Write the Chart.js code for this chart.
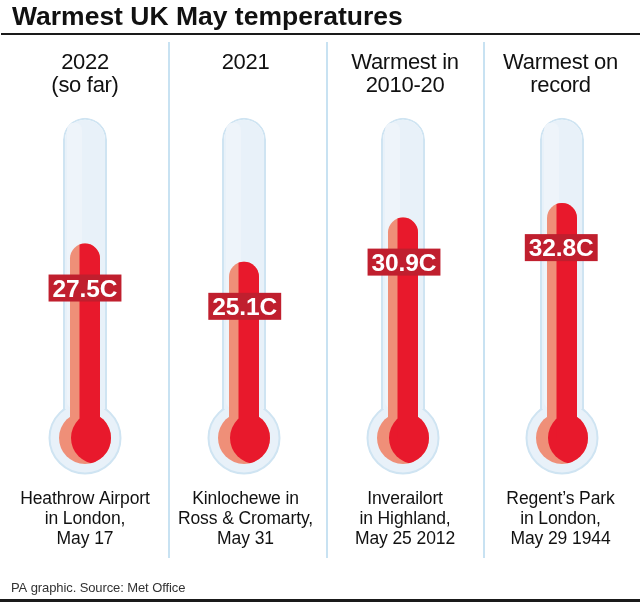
<!DOCTYPE html>
<html>
<head>
<meta charset="utf-8">
<style>
body { margin: 0; background: #fff; }
canvas { display: block; }
</style>
<script src="https://cdn.jsdelivr.net/npm/chart.js@4/dist/chart.umd.min.js"></script>
</head>
<body>
<canvas id="warmestChart" width="640" height="602"></canvas>
<script>
var chartTitle = "Warmest UK May temperatures";
var footNote = "PA graphic. Source: Met Office";
var periods = [["2022", "(so far)"], ["2021"], ["Warmest in", "2010-20"], ["Warmest on", "record"]];
var places = [
    ["Heathrow Airport", "in London,", "May 17"],
    ["Kinlochewe in", "Ross & Cromarty,", "May 31"],
    ["Inverailort", "in Highland,", "May 25 2012"],
    ["Regent\u2019s Park", "in London,", "May 29 1944"]
];
var temps = [27.5, 25.1, 30.9, 32.8];
var tubeRange = [[5.8, 44], [5.8, 44], [5.8, 44], [5.8, 44]];
var bulbLevel = 2;

var FONT = "'Liberation Sans'";
var RED = "#e8192c";
var SALMON = "#ef8f78";
var GLASS = "#e8f1f9";
var GLASS_EDGE = "#cfe4f2";
var SPLIT = 5.5; // red starts this far left of the tube centre
var TEXT_NUDGE = [0, 1.5, 2, -1.5];

function circle(ctx, x, y, r) {
    ctx.beginPath();
    ctx.arc(x, y, r, 0, Math.PI * 2);
}

function centres(chart) {
    return periods.map((p, i) => chart.scales.x.getPixelForValue(i));
}

function draw_lines(ctx, lines, x, y, step) {
    lines.forEach((line, i) => ctx.fillText(line, x, y + i * step));
}

var thermometerParts = {
    id: "thermometerParts",
    beforeDatasetDraw(chart, args) {
        var ctx = chart.ctx;
        var y = chart.scales.y.getPixelForValue(bulbLevel);
        var name = chart.data.datasets[args.index].label;
        if (name == "glass") {
            centres(chart).forEach((x) => {
                circle(ctx, x, y, 35.5);
                ctx.fillStyle = GLASS;
                ctx.fill();
                ctx.lineWidth = 2;
                ctx.strokeStyle = GLASS_EDGE;
                ctx.stroke();
            });
        } else if (name == "salmon") {
            centres(chart).forEach((x) => {
                circle(ctx, x, y, 26);
                ctx.fillStyle = SALMON;
                ctx.fill();
            });
        } else if (name == "red") {
            centres(chart).forEach((x) => {
                ctx.save();
                circle(ctx, x, y, 26);
                ctx.clip();
                circle(ctx, x + 12, y, 26);
                ctx.fillStyle = RED;
                ctx.fill();
                ctx.restore();
            });
            // only the right part of the column is bright red
            ctx.save();
            ctx.beginPath();
            centres(chart).forEach((x) => ctx.rect(x - SPLIT, 0, 40, chart.height));
            ctx.clip();
        }
    },
    afterDatasetDraw(chart, args) {
        var ctx = chart.ctx;
        var name = chart.data.datasets[args.index].label;
        if (name == "red") {
            ctx.restore();
        } else if (name == "glass") {
            var top = chart.scales.y.getPixelForValue(tubeRange[0][1]);
            var bottom = chart.scales.y.getPixelForValue(tubeRange[0][0]);
            centres(chart).forEach((x) => {
                ctx.fillStyle = "#eef4fa";
                ctx.beginPath();
                ctx.roundRect(x - 18, top + 5, 15, bottom - top - 5, 7);
                ctx.fill();
            });
        }
    },
    afterDatasetsDraw(chart) {
        var ctx = chart.ctx;
        ctx.save();

        // rules
        ctx.fillStyle = "#1a1a1a";
        ctx.fillRect(1, 33, 639, 2);
        ctx.fillRect(0, 599, 640, 3);
        ctx.fillStyle = "#c8e2f2";
        [169, 327, 484].forEach((x) => ctx.fillRect(x - 1, 42, 2, 516));

        // title and source
        ctx.textBaseline = "alphabetic";
        ctx.textAlign = "left";
        ctx.fillStyle = "#111";
        ctx.font = "bold 26.5px " + FONT;
        ctx.fillText(chartTitle, 12, 25);
        ctx.fillStyle = "#333";
        ctx.font = "13px " + FONT;
        ctx.letterSpacing = "-0.1px";
        ctx.fillText(footNote, 11, 592);

        // headings, places, value boxes
        ctx.textAlign = "center";
        var ys = chart.scales.y;
        centres(chart).forEach((x, i) => {
            ctx.fillStyle = "#111";
            ctx.font = "22px " + FONT;
            ctx.letterSpacing = "-0.3px";
            draw_lines(ctx, periods[i], x + TEXT_NUDGE[i], 69, 23);
            ctx.font = "17.5px " + FONT;
            ctx.letterSpacing = "-0.1px";
            draw_lines(ctx, places[i], x + TEXT_NUDGE[i], 503.5, 20.3);

            var top = ys.getPixelForValue(temps[i]);
            var label = temps[i].toFixed(1) + "C";
            ctx.font = "bold 24.5px " + FONT;
            ctx.letterSpacing = "-0.1px";
            var boxWidth = ctx.measureText(label).width + 8;
            ctx.fillStyle = "#c01f2e";
            ctx.fillRect(x + TEXT_NUDGE[i] / 2 - boxWidth / 2, top + 31, boxWidth, 27);
            ctx.fillStyle = "#fff";
            ctx.fillText(label, x + TEXT_NUDGE[i] / 2, top + 53);
        });
        ctx.restore();
    }
};

var config = {
    type: "bar",
    data: {
        labels: periods.map((p) => p.join(" ")),
        datasets: [
            { label: "red", data: temps, base: bulbLevel, backgroundColor: RED, barThickness: 30, borderRadius: { topLeft: 15, topRight: 15 }, borderSkipped: false, inflateAmount: 0, order: 1, clip: false },
            { label: "salmon", data: temps, base: bulbLevel, backgroundColor: SALMON, barThickness: 30, borderRadius: { topLeft: 15, topRight: 15 }, borderSkipped: false, inflateAmount: 0, order: 2, clip: false },
            { label: "glass", data: tubeRange, backgroundColor: GLASS, borderColor: GLASS_EDGE, borderWidth: 2, borderSkipped: "bottom", barThickness: 44, borderRadius: { topLeft: 22, topRight: 22 }, inflateAmount: 0, order: 3, clip: false }
        ]
    },
    options: {
        responsive: false,
        animation: false,
        grouped: false,
        layout: { padding: { top: 110.1, bottom: 148.8, left: 85, right: 78 } },
        plugins: { legend: { display: false }, tooltip: { enabled: false }, title: { display: false } },
        scales: {
            x: { display: false, offset: false },
            y: { display: false, min: 0, max: 45 }
        }
    },
    plugins: [thermometerParts]
};

new Chart("warmestChart", config);
</script>
</body>
</html>
